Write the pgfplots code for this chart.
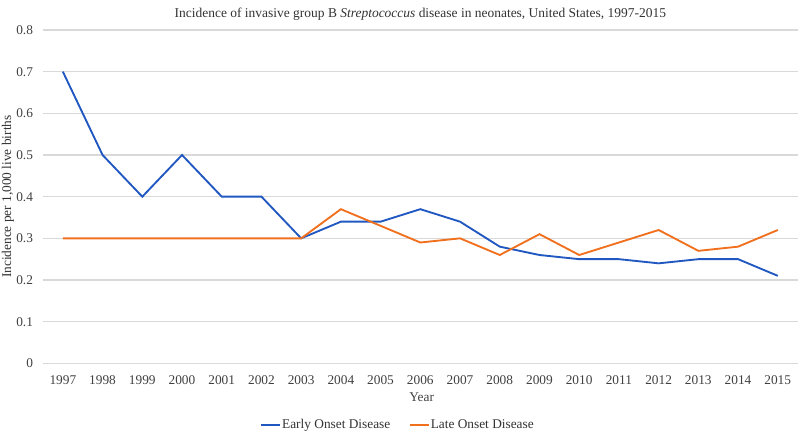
\documentclass[border=0pt]{standalone}
\usepackage{pgfplots}
\pgfplotsset{compat=1.18}
\usepackage{fontspec}
\setmainfont{Liberation Serif}
\definecolor{eblue}{RGB}{33,87,192}
\definecolor{lorange}{RGB}{240,112,30}
\definecolor{gridc}{RGB}{217,217,217}
\begin{document}
\begin{tikzpicture}
\useasboundingbox (-32.25pt,-52.5pt) rectangle (567.75pt,272.5pt);
\begin{axis}[
  name=ax, at={(0,0)}, anchor=south west,
  scale only axis,
  width=566pt, height=250pt,
  xmin=1996.5, xmax=2015.5,
  ymin=0, ymax=0.8,
  xtick={1997,...,2015},
  ytick={0,0.1,...,0.8},
  yticklabel style={/pgf/number format/fixed, /pgf/number format/precision=1},
  /pgf/number format/assume math mode=true,
  xticklabel={\pgfmathprintnumber[1000 sep={}]{\tick}},
  ymajorgrids, grid style={gridc, line width=0.8pt},
  axis line style={draw=none},
  axis x line*=bottom,
  tick style={draw=none},
  ticklabel style={font=\fontsize{10}{11}\selectfont, text=black!75},
  xticklabel style={anchor=center, yshift=-12.5pt},
  yticklabel style={xshift=-4pt},
  xlabel={Year}, xlabel style={at={(axis description cs:0.5,0)}, anchor=center, yshift=-25.5pt, xshift=1pt, font=\fontsize{10}{11}\selectfont, text=black!75},
  ylabel={Incidence per 1,000 live births},
  ylabel style={at={(axis description cs:0,0.5)}, anchor=center, yshift=26.3pt, font=\fontsize{10}{11}\selectfont, text=black!80},
  title={Incidence of invasive group B \textit{Streptococcus} disease in neonates, United States, 1997-2015},
  title style={at={(axis description cs:0.5,1)}, anchor=center, yshift=6pt, xshift=0pt, font=\fontsize{10.1}{12}\selectfont, text=black!80},
  legend style={at={(0.47,0)}, anchor=center, yshift=-46.5pt, draw=none, legend columns=2,
    font=\fontsize{10}{11}\selectfont, text=black!80,
    nodes={inner xsep=1pt},
    /tikz/every even column/.append style={column sep=13pt}},
  legend image code/.code={\draw[#1] (0pt,0pt) -- (14pt,0pt);},
]
\addplot[eblue, line width=1.4pt] coordinates {
(1997,0.70) (1998,0.50) (1999,0.40) (2000,0.50) (2001,0.40) (2002,0.40)
(2003,0.30) (2004,0.34) (2005,0.34) (2006,0.37) (2007,0.34) (2008,0.28)
(2009,0.26) (2010,0.25) (2011,0.25) (2012,0.24) (2013,0.25) (2014,0.25) (2015,0.21)};
\addlegendentry{Early Onset Disease}
\addplot[lorange, line width=1.4pt] coordinates {
(1997,0.30) (1998,0.30) (1999,0.30) (2000,0.30) (2001,0.30) (2002,0.30)
(2003,0.30) (2004,0.37) (2005,0.33) (2006,0.29) (2007,0.30) (2008,0.26)
(2009,0.31) (2010,0.26) (2011,0.29) (2012,0.32) (2013,0.27) (2014,0.28) (2015,0.32)};
\addlegendentry{Late Onset Disease}
\end{axis}
\end{tikzpicture}
\end{document}
